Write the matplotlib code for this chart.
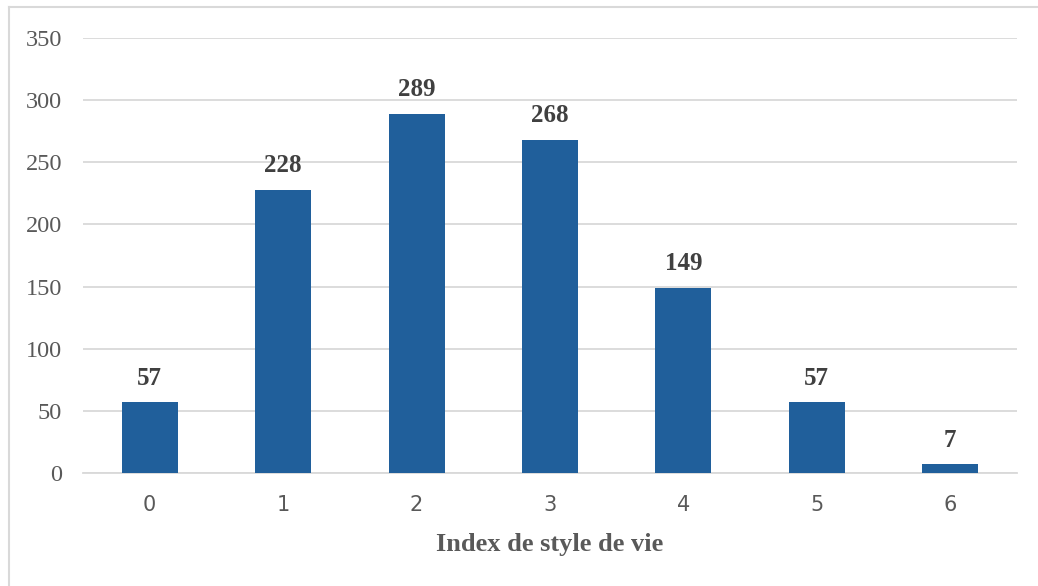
import matplotlib.pyplot as plt
from matplotlib.lines import Line2D

# Données
categories = ["0", "1", "2", "3", "4", "5", "6"]
valeurs = [57, 228, 289, 268, 149, 57, 7]
yticks = [0, 50, 100, 150, 200, 250, 300, 350]

fig = plt.figure(figsize=(10.38, 5.86), dpi=100)
ax = fig.add_axes([83 / 1038, 1 - 473 / 586, 934 / 1038, 435 / 586])

x = range(len(categories))
barres = ax.bar(x, valeurs, width=0.42, color="#205F9B", zorder=3)

# Étiquettes de valeurs
for b, v in zip(barres, valeurs):
    ax.annotate(str(v), (b.get_x() + b.get_width() / 2, v),
                xytext=(0, 9), textcoords="offset points",
                ha="center", va="bottom", fontsize=18, fontweight="bold",
                family="Liberation Serif", color="#404040")

ax.set_xlim(-0.5, len(categories) - 0.5)
ax.set_ylim(0, 350)
ax.set_yticks(yticks)
ax.set_yticklabels([str(t) for t in yticks], family="Liberation Serif",
                   fontsize=17.5, color="#595959")
ax.set_xticks(list(x))
ax.set_xticklabels(categories, fontsize=15, color="#595959")
ax.tick_params(axis="both", length=0)
ax.tick_params(axis="y", pad=15)
ax.tick_params(axis="x", pad=16)

ax.grid(axis="y", color="#D9D9D9", linewidth=1.3, zorder=0)
for s in ["top", "right", "left"]:
    ax.spines[s].set_visible(False)
ax.spines["bottom"].set_color("#D9D9D9")
ax.spines["bottom"].set_linewidth(1.3)

ax.set_xlabel("Index de style de vie", family="Liberation Serif",
              fontsize=19, fontweight="bold", color="#595959", labelpad=13)

# Cadre du graphique
fig.add_artist(Line2D([9 / 1038, 9 / 1038], [0, 1 - 7 / 586],
                      color="#D9D9D9", linewidth=1.5))
fig.add_artist(Line2D([9 / 1038, 1], [1 - 7 / 586, 1 - 7 / 586],
                      color="#D9D9D9", linewidth=1.5))

fig.savefig("out.png", dpi=100)
